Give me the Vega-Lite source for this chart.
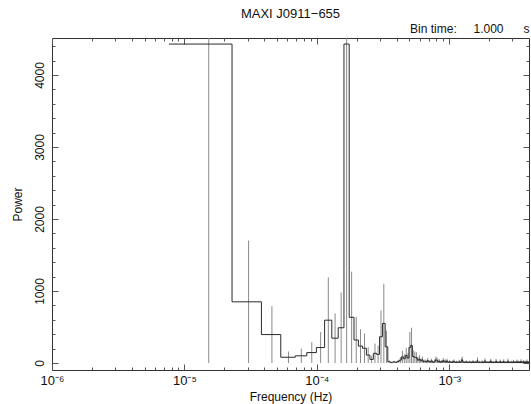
{
"$schema": "https://vega.github.io/schema/vega-lite/v6.json",
"autosize": {"type": "none"},
"width": 477, "height": 332,
"padding": {"left": 52, "top": 38, "right": 2, "bottom": 34},
"title": {"text": "MAXI J0911\u2212655", "anchor": "middle", "font": "Liberation Sans", "fontSize": 13, "fontWeight": "normal", "color": "#111", "offset": 2},
"config": {
  "view": {"stroke": "#333", "strokeWidth": 1},
  "axis": {"grid": false, "domain": false, "labelFont": "Liberation Sans", "labelFontSize": 12, "labelColor": "#111", "titleFont": "Liberation Sans", "titleFontSize": 12, "titleFontWeight": "normal", "titleColor": "#111", "tickColor": "#555", "labelOverlap": false, "labelFlush": false}
},
"data": {"values": [
{"f":1.5259e-5,"flo":7.629e-6,"p":4430},
{"f":3.0518e-5,"flo":2.2888e-5,"p":850},
{"f":4.5776e-5,"flo":3.8147e-5,"p":395},
{"f":6.1035e-5,"flo":5.3406e-5,"p":80},
{"f":7.6294e-5,"flo":6.8665e-5,"p":100},
{"f":9.1553e-5,"flo":8.3924e-5,"p":145},
{"f":1.0681e-4,"flo":9.918e-5,"p":215},
{"f":1.2207e-4,"flo":1.1444e-4,"p":595},
{"f":1.3733e-4,"flo":1.2970e-4,"p":345},
{"f":1.5259e-4,"flo":1.4496e-4,"p":490},
{"f":1.6785e-4,"flo":1.6022e-4,"p":4430},
{"f":1.8311e-4,"flo":1.7548e-4,"p":635},
{"f":1.9837e-4,"flo":1.9074e-4,"p":320},
{"f":2.1362e-4,"flo":2.0599e-4,"p":235},
{"f":2.2888e-4,"flo":2.2125e-4,"p":205},
{"f":2.4414e-4,"flo":2.3651e-4,"p":110},
{"f":2.5940e-4,"flo":2.5177e-4,"p":50},
{"f":2.7466e-4,"flo":2.6703e-4,"p":135},
{"f":2.8992e-4,"flo":2.8229e-4,"p":120},
{"f":3.0518e-4,"flo":2.9755e-4,"p":365},
{"f":3.2043e-4,"flo":3.1280e-4,"p":550},
{"f":3.3569e-4,"flo":3.2806e-4,"p":225},
{"f":3.5095e-4,"flo":3.4332e-4,"p":18},
{"f":3.6621e-4,"flo":3.5858e-4,"p":8},
{"f":3.8147e-4,"flo":3.7384e-4,"p":15},
{"f":3.9673e-4,"flo":3.8910e-4,"p":10},
{"f":4.1199e-4,"flo":4.0436e-4,"p":22},
{"f":4.2725e-4,"flo":4.1962e-4,"p":40},
{"f":4.4250e-4,"flo":4.3487e-4,"p":85},
{"f":4.5776e-4,"flo":4.5013e-4,"p":60},
{"f":4.7302e-4,"flo":4.6539e-4,"p":105},
{"f":4.8828e-4,"flo":4.8065e-4,"p":70},
{"f":5.0354e-4,"flo":4.9591e-4,"p":215},
{"f":5.1880e-4,"flo":5.1117e-4,"p":245},
{"f":5.3406e-4,"flo":5.2643e-4,"p":90},
{"f":5.4932e-4,"flo":5.4169e-4,"p":80},
{"f":5.6458e-4,"flo":5.5695e-4,"p":75},
{"f":5.7983e-4,"flo":5.7220e-4,"p":40},
{"f":5.9509e-4,"flo":5.8746e-4,"p":55},
{"f":6.1035e-4,"flo":6.0272e-4,"p":30},
{"f":6.2561e-4,"flo":6.1798e-4,"p":45},
{"f":6.4087e-4,"flo":6.3324e-4,"p":20},
{"f":6.5613e-4,"flo":6.4850e-4,"p":25},
{"f":6.7139e-4,"flo":6.6376e-4,"p":15},
{"f":6.8665e-4,"flo":6.7902e-4,"p":35},
{"f":7.0190e-4,"flo":6.9427e-4,"p":22},
{"f":7.1716e-4,"flo":7.0953e-4,"p":12},
{"f":7.3242e-4,"flo":7.2479e-4,"p":30},
{"f":7.4768e-4,"flo":7.4005e-4,"p":18},
{"f":7.6294e-4,"flo":7.5531e-4,"p":8},
{"f":7.7820e-4,"flo":7.7057e-4,"p":25},
{"f":7.9346e-4,"flo":7.8583e-4,"p":45},
{"f":8.0872e-4,"flo":8.0109e-4,"p":38},
{"f":8.2397e-4,"flo":8.1634e-4,"p":15},
{"f":8.3923e-4,"flo":8.3160e-4,"p":28},
{"f":8.5449e-4,"flo":8.4686e-4,"p":10},
{"f":8.6975e-4,"flo":8.6212e-4,"p":20},
{"f":8.8501e-4,"flo":8.7738e-4,"p":12},
{"f":9.0027e-4,"flo":8.9264e-4,"p":35},
{"f":9.1553e-4,"flo":9.0790e-4,"p":18},
{"f":9.3079e-4,"flo":9.2316e-4,"p":25},
{"f":9.4604e-4,"flo":9.3841e-4,"p":10},
{"f":9.6130e-4,"flo":9.5367e-4,"p":30},
{"f":9.7656e-4,"flo":9.6893e-4,"p":15},
{"f":9.9182e-4,"flo":9.8419e-4,"p":8},
{"f":1.0071e-3,"flo":9.9945e-4,"p":20},
{"f":1.0223e-3,"flo":1.0147e-3,"p":12},
{"f":1.0376e-3,"flo":1.0300e-3,"p":6},
{"f":1.0529e-3,"flo":1.0452e-3,"p":18},
{"f":1.0681e-3,"flo":1.0605e-3,"p":10},
{"f":1.0834e-3,"flo":1.0758e-3,"p":25},
{"f":1.0986e-3,"flo":1.0910e-3,"p":14},
{"f":1.1139e-3,"flo":1.1063e-3,"p":8},
{"f":1.1292e-3,"flo":1.1215e-3,"p":16},
{"f":1.1444e-3,"flo":1.1368e-3,"p":5},
{"f":1.1597e-3,"flo":1.1520e-3,"p":12},
{"f":1.1749e-3,"flo":1.1673e-3,"p":9},
{"f":1.1902e-3,"flo":1.1826e-3,"p":22},
{"f":1.2054e-3,"flo":1.1978e-3,"p":11},
{"f":1.2207e-3,"flo":1.2131e-3,"p":7},
{"f":1.2360e-3,"flo":1.2283e-3,"p":30},
{"f":1.2512e-3,"flo":1.2436e-3,"p":45},
{"f":1.2665e-3,"flo":1.2589e-3,"p":20},
{"f":1.2817e-3,"flo":1.2741e-3,"p":10},
{"f":1.2970e-3,"flo":1.2894e-3,"p":6},
{"f":1.3123e-3,"flo":1.3046e-3,"p":14},
{"f":1.3275e-3,"flo":1.3199e-3,"p":9},
{"f":1.3428e-3,"flo":1.3352e-3,"p":18},
{"f":1.3580e-3,"flo":1.3504e-3,"p":7},
{"f":1.3733e-3,"flo":1.3657e-3,"p":12},
{"f":1.3886e-3,"flo":1.3809e-3,"p":5},
{"f":1.4038e-3,"flo":1.3962e-3,"p":10},
{"f":1.4191e-3,"flo":1.4114e-3,"p":16},
{"f":1.4343e-3,"flo":1.4267e-3,"p":8},
{"f":1.4496e-3,"flo":1.4420e-3,"p":11},
{"f":1.4648e-3,"flo":1.4572e-3,"p":4},
{"f":1.4801e-3,"flo":1.4725e-3,"p":13},
{"f":1.4954e-3,"flo":1.4877e-3,"p":7},
{"f":1.5106e-3,"flo":1.5030e-3,"p":20},
{"f":1.5259e-3,"flo":1.5183e-3,"p":9},
{"f":1.5411e-3,"flo":1.5335e-3,"p":6},
{"f":1.5564e-3,"flo":1.5488e-3,"p":12},
{"f":1.5717e-3,"flo":1.5640e-3,"p":8},
{"f":1.5869e-3,"flo":1.5793e-3,"p":15},
{"f":1.6022e-3,"flo":1.5946e-3,"p":5},
{"f":1.6174e-3,"flo":1.6098e-3,"p":10},
{"f":1.6327e-3,"flo":1.6251e-3,"p":38},
{"f":1.6479e-3,"flo":1.6403e-3,"p":12},
{"f":1.6632e-3,"flo":1.6556e-3,"p":6},
{"f":1.6785e-3,"flo":1.6708e-3,"p":9},
{"f":1.6937e-3,"flo":1.6861e-3,"p":14},
{"f":1.7090e-3,"flo":1.7014e-3,"p":5},
{"f":1.7242e-3,"flo":1.7166e-3,"p":8},
{"f":1.7395e-3,"flo":1.7319e-3,"p":11},
{"f":1.7548e-3,"flo":1.7471e-3,"p":7},
{"f":1.7700e-3,"flo":1.7624e-3,"p":18},
{"f":1.7853e-3,"flo":1.7777e-3,"p":6},
{"f":1.8005e-3,"flo":1.7929e-3,"p":10},
{"f":1.8158e-3,"flo":1.8082e-3,"p":4},
{"f":1.8311e-3,"flo":1.8234e-3,"p":12},
{"f":1.8463e-3,"flo":1.8387e-3,"p":8},
{"f":1.8616e-3,"flo":1.8539e-3,"p":32},
{"f":1.8768e-3,"flo":1.8692e-3,"p":9},
{"f":1.8921e-3,"flo":1.8845e-3,"p":5},
{"f":1.9073e-3,"flo":1.8997e-3,"p":11},
{"f":1.9226e-3,"flo":1.9150e-3,"p":7},
{"f":1.9379e-3,"flo":1.9302e-3,"p":13},
{"f":1.9531e-3,"flo":1.9455e-3,"p":6},
{"f":1.9684e-3,"flo":1.9608e-3,"p":9},
{"f":1.9836e-3,"flo":1.9760e-3,"p":4},
{"f":1.9989e-3,"flo":1.9913e-3,"p":15},
{"f":2.0142e-3,"flo":2.0065e-3,"p":8},
{"f":2.0294e-3,"flo":2.0218e-3,"p":11},
{"f":2.0447e-3,"flo":2.0370e-3,"p":6},
{"f":2.0599e-3,"flo":2.0523e-3,"p":30},
{"f":2.0752e-3,"flo":2.0676e-3,"p":10},
{"f":2.0905e-3,"flo":2.0828e-3,"p":5},
{"f":2.1057e-3,"flo":2.0981e-3,"p":12},
{"f":2.1210e-3,"flo":2.1133e-3,"p":7},
{"f":2.1362e-3,"flo":2.1286e-3,"p":9},
{"f":2.1515e-3,"flo":2.1439e-3,"p":4},
{"f":2.1667e-3,"flo":2.1591e-3,"p":14},
{"f":2.1820e-3,"flo":2.1744e-3,"p":8},
{"f":2.1973e-3,"flo":2.1896e-3,"p":6},
{"f":2.2125e-3,"flo":2.2049e-3,"p":10},
{"f":2.2278e-3,"flo":2.2202e-3,"p":5},
{"f":2.2430e-3,"flo":2.2354e-3,"p":11},
{"f":2.2583e-3,"flo":2.2507e-3,"p":28},
{"f":2.2736e-3,"flo":2.2659e-3,"p":7},
{"f":2.2888e-3,"flo":2.2812e-3,"p":9},
{"f":2.3041e-3,"flo":2.2964e-3,"p":4},
{"f":2.3193e-3,"flo":2.3117e-3,"p":13},
{"f":2.3346e-3,"flo":2.3270e-3,"p":6},
{"f":2.3499e-3,"flo":2.3422e-3,"p":10},
{"f":2.3651e-3,"flo":2.3575e-3,"p":8},
{"f":2.3804e-3,"flo":2.3727e-3,"p":5},
{"f":2.3956e-3,"flo":2.3880e-3,"p":12},
{"f":2.4109e-3,"flo":2.4033e-3,"p":7},
{"f":2.4261e-3,"flo":2.4185e-3,"p":24},
{"f":2.4414e-3,"flo":2.4338e-3,"p":9},
{"f":2.4567e-3,"flo":2.4490e-3,"p":4},
{"f":2.4719e-3,"flo":2.4643e-3,"p":11},
{"f":2.4872e-3,"flo":2.4796e-3,"p":6},
{"f":2.5024e-3,"flo":2.4948e-3,"p":8},
{"f":2.5177e-3,"flo":2.5101e-3,"p":14},
{"f":2.5330e-3,"flo":2.5253e-3,"p":5},
{"f":2.5482e-3,"flo":2.5406e-3,"p":9},
{"f":2.5635e-3,"flo":2.5558e-3,"p":7},
{"f":2.5787e-3,"flo":2.5711e-3,"p":26},
{"f":2.5940e-3,"flo":2.5864e-3,"p":10},
{"f":2.6093e-3,"flo":2.6016e-3,"p":6},
{"f":2.6245e-3,"flo":2.6169e-3,"p":4},
{"f":2.6398e-3,"flo":2.6321e-3,"p":12},
{"f":2.6550e-3,"flo":2.6474e-3,"p":8},
{"f":2.6703e-3,"flo":2.6627e-3,"p":5},
{"f":2.6855e-3,"flo":2.6779e-3,"p":10},
{"f":2.7008e-3,"flo":2.6932e-3,"p":7},
{"f":2.7161e-3,"flo":2.7084e-3,"p":13},
{"f":2.7313e-3,"flo":2.7237e-3,"p":4},
{"f":2.7466e-3,"flo":2.7390e-3,"p":9},
{"f":2.7618e-3,"flo":2.7542e-3,"p":6},
{"f":2.7771e-3,"flo":2.7695e-3,"p":30},
{"f":2.7924e-3,"flo":2.7847e-3,"p":8},
{"f":2.8076e-3,"flo":2.8000e-3,"p":5},
{"f":2.8229e-3,"flo":2.8153e-3,"p":11},
{"f":2.8381e-3,"flo":2.8305e-3,"p":7},
{"f":2.8534e-3,"flo":2.8458e-3,"p":4},
{"f":2.8687e-3,"flo":2.8610e-3,"p":10},
{"f":2.8839e-3,"flo":2.8763e-3,"p":6},
{"f":2.8992e-3,"flo":2.8915e-3,"p":12},
{"f":2.9144e-3,"flo":2.9068e-3,"p":8},
{"f":2.9297e-3,"flo":2.9221e-3,"p":5},
{"f":2.9449e-3,"flo":2.9373e-3,"p":15},
{"f":2.9602e-3,"flo":2.9526e-3,"p":7},
{"f":2.9755e-3,"flo":2.9678e-3,"p":9},
{"f":2.9907e-3,"flo":2.9831e-3,"p":4},
{"f":3.0060e-3,"flo":2.9984e-3,"p":11},
{"f":3.0212e-3,"flo":3.0136e-3,"p":6},
{"f":3.0365e-3,"flo":3.0289e-3,"p":8},
{"f":3.0518e-3,"flo":3.0441e-3,"p":22},
{"f":3.0670e-3,"flo":3.0594e-3,"p":5},
{"f":3.0823e-3,"flo":3.0746e-3,"p":10},
{"f":3.0975e-3,"flo":3.0899e-3,"p":7},
{"f":3.1128e-3,"flo":3.1052e-3,"p":12},
{"f":3.1281e-3,"flo":3.1204e-3,"p":4},
{"f":3.1433e-3,"flo":3.1357e-3,"p":9},
{"f":3.1586e-3,"flo":3.1509e-3,"p":6},
{"f":3.1738e-3,"flo":3.1662e-3,"p":14},
{"f":3.1891e-3,"flo":3.1815e-3,"p":8},
{"f":3.2043e-3,"flo":3.1967e-3,"p":5},
{"f":3.2196e-3,"flo":3.2120e-3,"p":11},
{"f":3.2349e-3,"flo":3.2272e-3,"p":7},
{"f":3.2501e-3,"flo":3.2425e-3,"p":24},
{"f":3.2654e-3,"flo":3.2578e-3,"p":6},
{"f":3.2806e-3,"flo":3.2730e-3,"p":9},
{"f":3.2959e-3,"flo":3.2883e-3,"p":4},
{"f":3.3112e-3,"flo":3.3035e-3,"p":12},
{"f":3.3264e-3,"flo":3.3188e-3,"p":8},
{"f":3.3417e-3,"flo":3.3340e-3,"p":5},
{"f":3.3569e-3,"flo":3.3493e-3,"p":16},
{"f":3.3722e-3,"flo":3.3646e-3,"p":7},
{"f":3.3875e-3,"flo":3.3798e-3,"p":10},
{"f":3.4027e-3,"flo":3.3951e-3,"p":4},
{"f":3.4180e-3,"flo":3.4103e-3,"p":13},
{"f":3.4332e-3,"flo":3.4256e-3,"p":6},
{"f":3.4485e-3,"flo":3.4409e-3,"p":9},
{"f":3.4637e-3,"flo":3.4561e-3,"p":5},
{"f":3.4790e-3,"flo":3.4714e-3,"p":26},
{"f":3.4943e-3,"flo":3.4866e-3,"p":8},
{"f":3.5095e-3,"flo":3.5019e-3,"p":6},
{"f":3.5248e-3,"flo":3.5172e-3,"p":11},
{"f":3.5400e-3,"flo":3.5324e-3,"p":4},
{"f":3.5553e-3,"flo":3.5477e-3,"p":9},
{"f":3.5706e-3,"flo":3.5629e-3,"p":7},
{"f":3.5858e-3,"flo":3.5782e-3,"p":14},
{"f":3.6011e-3,"flo":3.5934e-3,"p":5},
{"f":3.6163e-3,"flo":3.6087e-3,"p":10},
{"f":3.6316e-3,"flo":3.6240e-3,"p":6},
{"f":3.6469e-3,"flo":3.6392e-3,"p":20},
{"f":3.6621e-3,"flo":3.6545e-3,"p":8},
{"f":3.6774e-3,"flo":3.6697e-3,"p":4},
{"f":3.6926e-3,"flo":3.6850e-3,"p":12},
{"f":3.7079e-3,"flo":3.7003e-3,"p":7},
{"f":3.7231e-3,"flo":3.7155e-3,"p":9},
{"f":3.7384e-3,"flo":3.7308e-3,"p":5},
{"f":3.7537e-3,"flo":3.7460e-3,"p":15},
{"f":3.7689e-3,"flo":3.7613e-3,"p":6},
{"f":3.7842e-3,"flo":3.7766e-3,"p":10},
{"f":3.7994e-3,"flo":3.7918e-3,"p":8},
{"f":3.8147e-3,"flo":3.8071e-3,"p":4},
{"f":3.8300e-3,"flo":3.8223e-3,"p":12},
{"f":3.8452e-3,"flo":3.8376e-3,"p":7},
{"f":3.8605e-3,"flo":3.8528e-3,"p":24},
{"f":3.8757e-3,"flo":3.8681e-3,"p":5},
{"f":3.8910e-3,"flo":3.8834e-3,"p":9},
{"f":3.9063e-3,"flo":3.8986e-3,"p":6},
{"f":3.9215e-3,"flo":3.9139e-3,"p":11},
{"f":3.9368e-3,"flo":3.9291e-3,"p":4},
{"f":3.9520e-3,"flo":3.9444e-3,"p":8},
{"f":3.9673e-3,"flo":3.9597e-3,"p":13},
{"f":3.9825e-3,"flo":3.9749e-3,"p":6},
{"f":3.9978e-3,"flo":3.9902e-3,"p":9},
{"f":4.0131e-3,"flo":4.0054e-3,"p":5}
]},
"layer": [
 {"mark": {"type": "errorbar", "color": "#8a8a8a", "thickness": 1, "clip": true},
  "encoding": {
   "x": {"field": "f", "type": "quantitative",
     "scale": {"type": "log", "domain": [1e-6, 0.004], "nice": false},
     "axis": {"orient": "top",
       "values": [1e-6,2e-6,3e-6,4e-6,5e-6,6e-6,7e-6,8e-6,9e-6,1e-5,2e-5,3e-5,4e-5,5e-5,6e-5,7e-5,8e-5,9e-5,1e-4,2e-4,3e-4,4e-4,5e-4,6e-4,7e-4,8e-4,9e-4,1e-3,2e-3,3e-3],
       "labels": false,
       "tickSize": {"condition": {"test": "abs(log(datum.value)/LN10 - round(log(datum.value)/LN10)) < 0.01", "value": -6}, "value": -3},
       "title": "Bin time:\u00a0\u00a0\u00a0\u00a0\u00a01.000\u00a0\u00a0\u00a0\u00a0\u00a0\u00a0s", "titleAnchor": "end", "titlePadding": 2}},
   "y": {"field": "p", "type": "quantitative",
     "scale": {"domain": [-97, 4514], "nice": false, "zero": false},
     "axis": {"orient": "right",
       "values": [0,200,400,600,800,1000,1200,1400,1600,1800,2000,2200,2400,2600,2800,3000,3200,3400,3600,3800,4000,4200,4400],
       "labels": false,
       "tickSize": {"condition": {"test": "datum.value % 1000 == 0", "value": -6}, "value": -3},
       "title": null}},
   "yError": {"field": "p"}
  }},
 {"mark": {"type": "line", "interpolate": "step-after", "color": "#2a2a2a", "strokeWidth": 1, "clip": true},
  "encoding": {
   "x": {"field": "flo", "type": "quantitative",
     "axis": {"orient": "bottom",
       "values": [1e-6,2e-6,3e-6,4e-6,5e-6,6e-6,7e-6,8e-6,9e-6,1e-5,2e-5,3e-5,4e-5,5e-5,6e-5,7e-5,8e-5,9e-5,1e-4,2e-4,3e-4,4e-4,5e-4,6e-4,7e-4,8e-4,9e-4,1e-3,2e-3,3e-3],
       "labelExpr": "abs(log(datum.value)/LN10 - round(log(datum.value)/LN10)) < 0.01 ? '10' + (round(log(datum.value)/LN10) == -6 ? '\u207b\u2076' : round(log(datum.value)/LN10) == -5 ? '\u207b\u2075' : round(log(datum.value)/LN10) == -4 ? '\u207b\u2074' : '\u207b\u00b3') : ''",
       "tickSize": {"condition": {"test": "abs(log(datum.value)/LN10 - round(log(datum.value)/LN10)) < 0.01", "value": -6}, "value": -3},
       "labelPadding": 10, "labelBaseline": "top", "labelFontSize": 13,
       "title": "Frequency (Hz)", "titlePadding": 1}},
   "y": {"field": "p", "type": "quantitative",
     "axis": {"orient": "left",
       "values": [0,200,400,600,800,1000,1200,1400,1600,1800,2000,2200,2400,2600,2800,3000,3200,3400,3600,3800,4000,4200,4400],
       "format": "d",
       "labelExpr": "datum.value % 1000 == 0 ? datum.label : ''",
       "tickSize": {"condition": {"test": "datum.value % 1000 == 0", "value": -6}, "value": -3},
       "labelAngle": -90, "labelAlign": "center", "labelBaseline": "alphabetic", "labelPadding": 15,
       "title": "Power", "titlePadding": 6}}
  }}
],
"resolve": {"axis": {"x": "independent", "y": "independent"}}
}
